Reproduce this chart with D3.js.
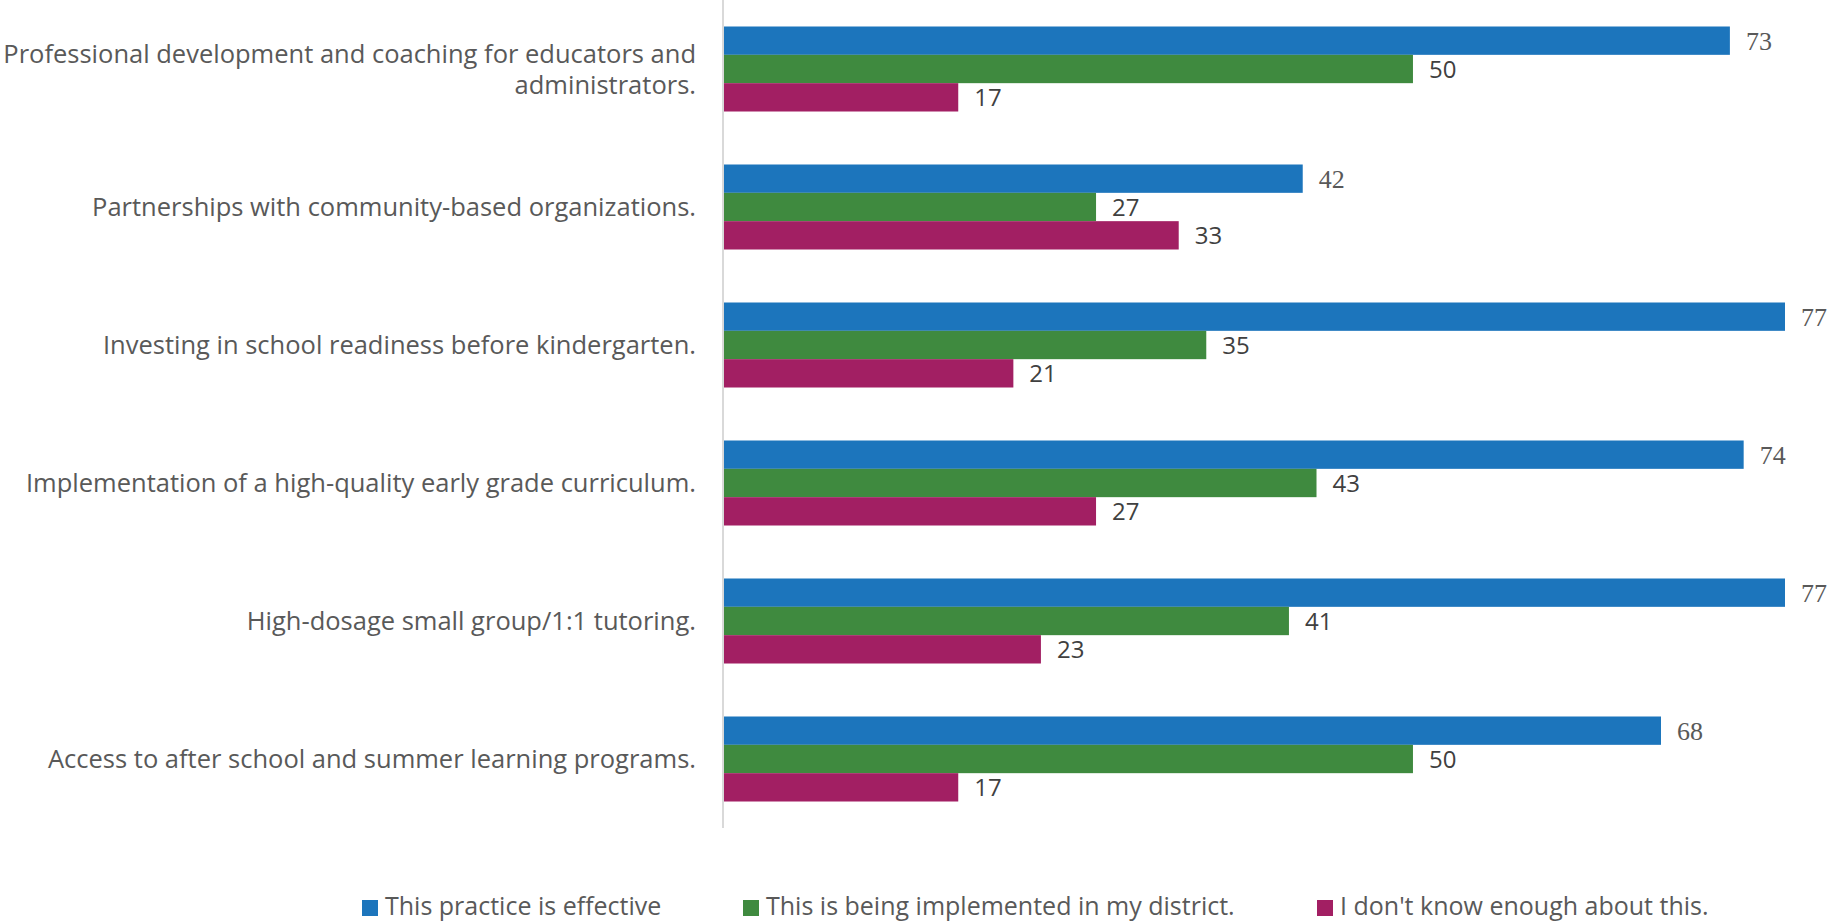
<!DOCTYPE html>
<html>
<head>
<meta charset="utf-8">
<script src="https://cdn.jsdelivr.net/npm/d3@7"></script>
<style>
  html, body { margin: 0; padding: 0; background: #fff; }
  svg { display: block; }
</style>
</head>
<body>
<div id="chart"></div>
<script>
// Practices, top to bottom as drawn
const categories = [
  ['Professional development and coaching for educators and', 'administrators.'],
  ['Partnerships with community-based organizations.'],
  ['Investing in school readiness before kindergarten.'],
  ['Implementation of a high-quality early grade curriculum.'],
  ['High-dosage small group/1:1 tutoring.'],
  ['Access to after school and summer learning programs.'],
];
const seriesNames = [
  'This practice is effective',
  'This is being implemented in my district.',
  "I don't know enough about this.",
];
const effective = [73, 42, 77, 74, 77, 68];
const implemented = [50, 27, 35, 43, 41, 50];
const dontKnow = [17, 33, 21, 27, 23, 17];

const colors = ['#1c75bc', '#3f8a3f', '#a21f63'];

const W = 1828, H = 923;
const plot = { left: 724, top: 0, bottom: 828 };

const svg = d3.select('#chart').append('svg')
  .attr('width', W).attr('height', H);

const rows = categories.map((lines, i) => ({
  key: i,
  lines,
  values: [effective[i], implemented[i], dontKnow[i]],
}));

const x = d3.scaleLinear().domain([0, 77]).range([plot.left, 1785]);
const y = d3.scaleBand()
  .domain(rows.map((r) => r.key))
  .range([plot.top, plot.bottom])
  .paddingInner(0.384)
  .paddingOuter(0.192);
const ySub = d3.scaleBand().domain([0, 1, 2]).range([0, y.bandwidth()]);

// Category axis line
svg.append('line')
  .attr('x1', plot.left - 1).attr('x2', plot.left - 1)
  .attr('y1', plot.top).attr('y2', plot.bottom)
  .attr('stroke', '#d9d9d9').attr('stroke-width', 2);

const groups = svg.selectAll('.row')
  .data(rows)
  .enter()
  .append('g')
  .attr('transform', (d) => `translate(0,${y(d.key)})`);

groups.selectAll('rect')
  .data((d) => d.values.map((v, s) => ({ v, s })))
  .enter()
  .append('rect')
  .attr('x', x(0))
  .attr('y', (d) => ySub(d.s))
  .attr('width', (d) => x(d.v) - x(0))
  .attr('height', ySub.bandwidth())
  .attr('fill', (d) => colors[d.s]);

// Value labels: first series in a serif face, the others sans
groups.selectAll('.val')
  .data((d) => d.values.map((v, s) => ({ v, s })))
  .enter()
  .append('text')
  .attr('x', (d) => x(d.v) + 16)
  .attr('y', (d) => ySub(d.s) + ySub.bandwidth() / 2)
  .attr('dy', '0.36em')
  .attr('font-family', (d) => d.s === 0 ? "'Liberation Serif', 'DejaVu Serif', serif" : "'Open Sans', sans-serif")
  .attr('font-size', (d) => d.s === 0 ? 26 : 24)
  .attr('fill', (d) => d.s === 0 ? '#595959' : '#404040')
  .text((d) => d.v);

// Category labels
const lineH = 31;
groups.append('text')
  .attr('text-anchor', 'end')
  .attr('font-family', "'Open Sans', sans-serif")
  .attr('font-size', 25.5)
  .attr('fill', '#595959')
  .each(function (d) {
    const t = d3.select(this);
    const n = d.lines.length;
    d.lines.forEach((line, j) => {
      t.append('tspan')
        .attr('x', 696)
        .attr('y', y.bandwidth() / 2 + (j - (n - 1) / 2) * lineH)
        .attr('dy', '0.36em')
        .text(line);
    });
  });

// Legend
const legendX = [362, 743, 1317];
const legend = svg.selectAll('.legend')
  .data(seriesNames)
  .enter()
  .append('g')
  .attr('transform', (d, i) => `translate(${legendX[i]},900)`);
legend.append('rect')
  .attr('width', 16).attr('height', 16)
  .attr('fill', (d, i) => colors[i]);
legend.append('text')
  .attr('x', 23)
  .attr('y', 15)
  .attr('font-family', "'Open Sans', sans-serif")
  .attr('font-size', 25)
  .attr('fill', '#595959')
  .text((d) => d);
</script>
</body>
</html>
